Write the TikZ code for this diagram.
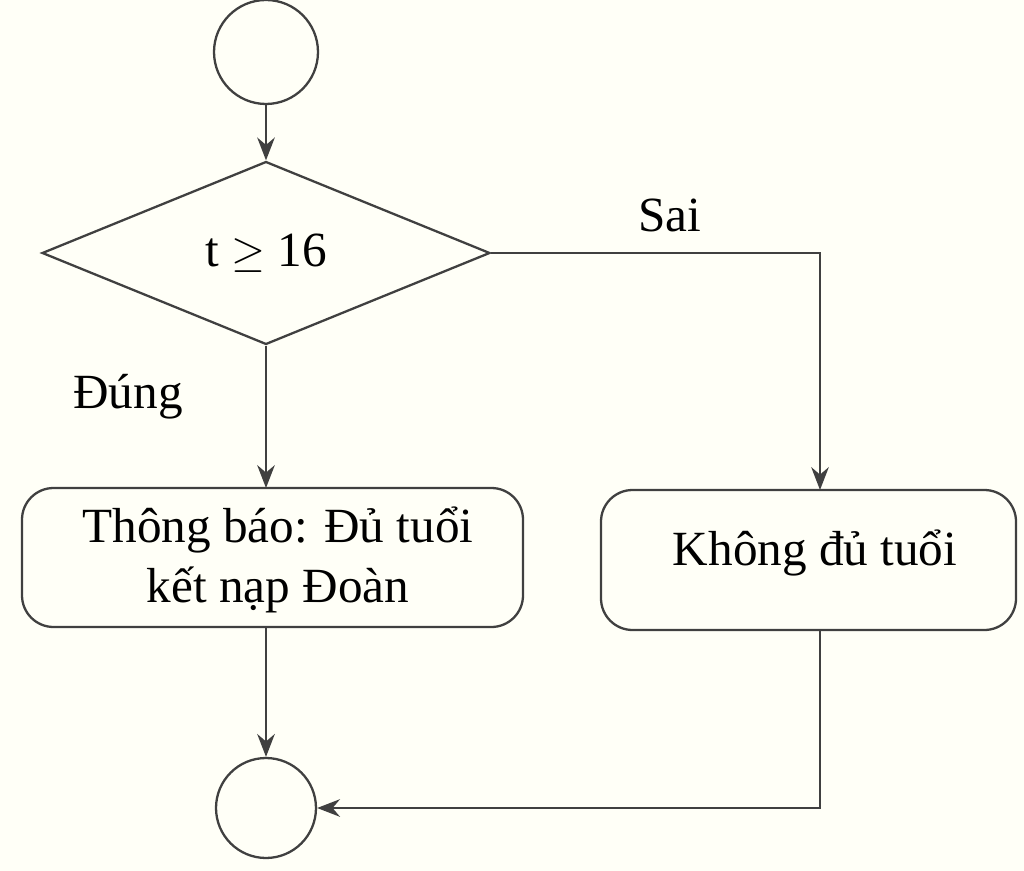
\documentclass[tikz,border=0pt]{standalone}
\usepackage{fontspec}
\setmainfont{Liberation Serif}
\usetikzlibrary{shapes.geometric,arrows.meta}
\begin{document}
\begin{tikzpicture}[x=0.02cm,y=-0.02cm,
  ln/.style={line width=1.3pt,draw=black!75},
  arr/.style={ln,-{Stealth[length=13pt,width=10pt]}},
  txt/.style={font=\fontsize{28}{34}\selectfont},
  rbox/.style={ln,rounded corners=18pt}]
\fill[white!97!yellow] (0,0) rectangle (1024,871);
\useasboundingbox (0,0) rectangle (1024,871);
\node[ln,circle,minimum size=2.08cm] (start) at (266,52) {};
\node[ln,diamond,aspect=2.45,minimum width=8.96cm,minimum height=3.66cm,inner sep=0pt,txt] (dec) at (266,253) {t $\geq$ 16};
\draw[rbox] (22,488) rectangle (523,627);
\node[txt,align=center] (yes) at (278,560) {Thông báo: Đủ tuổi\\kết nạp Đoàn};
\draw[rbox] (601,490) rectangle (1016,630);
\node[txt] (no) at (815,553) {Không đủ tuổi};
\coordinate (yesT) at (266,488); \coordinate (yesB) at (266,627);
\coordinate (noT) at (820,490); \coordinate (noB) at (820,630);
\node[ln,circle,minimum size=2.0cm] (end) at (266,808) {};
\draw[arr] (start) -- (dec.north);
\draw[arr] (dec.south) -- (yesT);
\draw[arr] (dec.east) -| (noT);
\draw[arr] (yesB) -- (end.north);
\draw[arr] (noB) |- (end.east);
\node[txt] (sai) at (670,215) {Sai};
\node[txt] (dung) at (128,397) {Đúng};
\end{tikzpicture}
\end{document}
